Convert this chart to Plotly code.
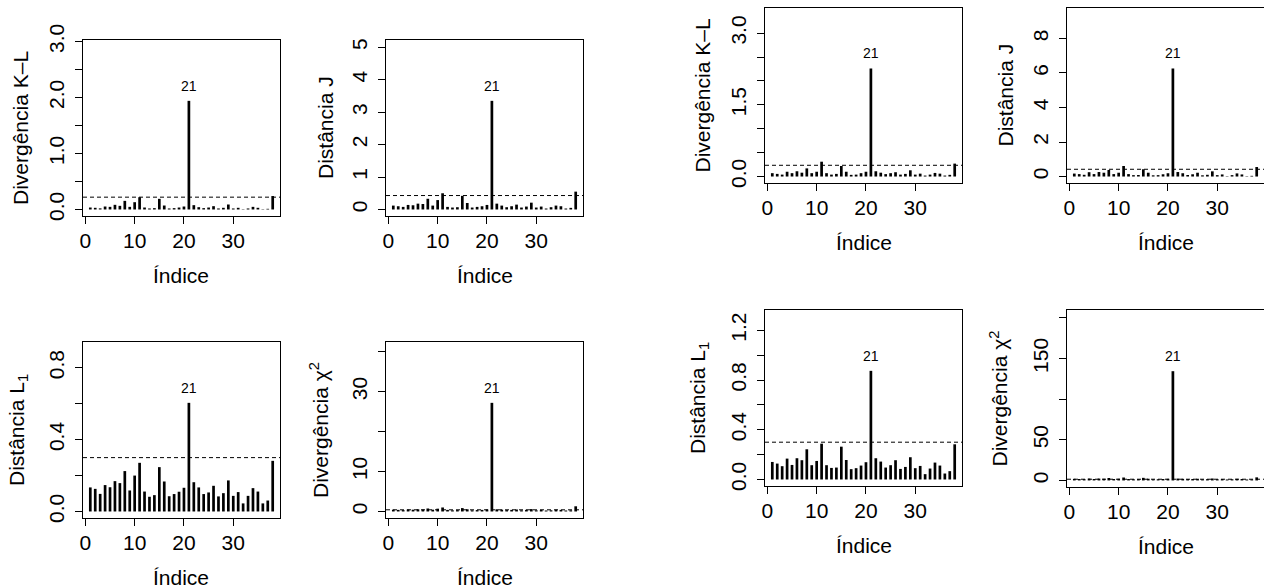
import plotly.graph_objects as go

# Observation index shared by every panel
indice = list(range(1, 39))

# First model: influence measures per observation
kl_a = [0.035, 0.030, 0.020, 0.053, 0.047, 0.083, 0.065, 0.154, 0.047, 0.130,
        0.219, 0.035, 0.018, 0.024, 0.190, 0.071, 0.018, 0.024, 0.035, 0.053,
        1.940, 0.077, 0.041, 0.024, 0.035, 0.059, 0.018, 0.030, 0.089, 0.018,
        0.030, 0.006, 0.018, 0.047, 0.030, 0.006, 0.012, 0.240]
j_a = [0.12, 0.10, 0.08, 0.14, 0.13, 0.18, 0.17, 0.33, 0.12, 0.29,
       0.50, 0.08, 0.06, 0.07, 0.42, 0.20, 0.06, 0.08, 0.10, 0.14,
       3.35, 0.18, 0.12, 0.07, 0.10, 0.15, 0.06, 0.09, 0.21, 0.06,
       0.09, 0.03, 0.07, 0.12, 0.10, 0.03, 0.05, 0.55]
l1_a = [0.134, 0.126, 0.098, 0.147, 0.135, 0.169, 0.158, 0.225, 0.117, 0.200,
        0.271, 0.111, 0.082, 0.091, 0.247, 0.167, 0.085, 0.097, 0.110, 0.132,
        0.605, 0.163, 0.134, 0.097, 0.106, 0.143, 0.084, 0.102, 0.173, 0.087,
        0.108, 0.045, 0.087, 0.130, 0.111, 0.045, 0.061, 0.282]
chi2_a = [0.45, 0.40, 0.35, 0.50, 0.45, 0.55, 0.50, 0.75, 0.45, 0.70,
          1.00, 0.40, 0.30, 0.35, 0.85, 0.55, 0.30, 0.35, 0.40, 0.50,
          27.2, 0.55, 0.45, 0.35, 0.40, 0.50, 0.30, 0.40, 0.60, 0.30,
          0.40, 0.25, 0.30, 0.45, 0.40, 0.25, 0.30, 1.30]

# Second model: influence measures per observation
kl_b = [0.070, 0.055, 0.040, 0.100, 0.070, 0.110, 0.080, 0.170, 0.070, 0.100,
        0.310, 0.070, 0.040, 0.055, 0.220, 0.100, 0.035, 0.040, 0.070, 0.100,
        2.260, 0.110, 0.080, 0.050, 0.070, 0.090, 0.040, 0.055, 0.130, 0.040,
        0.060, 0.020, 0.040, 0.075, 0.060, 0.020, 0.035, 0.270]
j_b = [0.17, 0.14, 0.10, 0.25, 0.14, 0.26, 0.22, 0.38, 0.14, 0.22,
       0.61, 0.14, 0.08, 0.09, 0.42, 0.22, 0.07, 0.08, 0.13, 0.19,
       6.26, 0.26, 0.19, 0.09, 0.13, 0.22, 0.07, 0.10, 0.30, 0.08,
       0.12, 0.02, 0.08, 0.18, 0.12, 0.02, 0.04, 0.55]
l1_b = [0.141, 0.128, 0.107, 0.168, 0.117, 0.171, 0.155, 0.243, 0.115, 0.149,
        0.288, 0.115, 0.093, 0.096, 0.264, 0.157, 0.083, 0.091, 0.112, 0.139,
        0.874, 0.171, 0.144, 0.096, 0.115, 0.155, 0.085, 0.101, 0.179, 0.091,
        0.109, 0.043, 0.088, 0.136, 0.112, 0.048, 0.067, 0.283]
chi2_b = [2.0, 1.8, 1.6, 2.3, 1.8, 2.3, 2.1, 3.0, 1.8, 2.1,
          3.6, 1.8, 1.5, 1.6, 3.2, 2.1, 1.4, 1.5, 1.8, 2.0,
          134.4, 2.3, 2.0, 1.6, 1.8, 2.1, 1.4, 1.6, 2.4, 1.5,
          1.7, 1.2, 1.5, 2.0, 1.8, 1.2, 1.3, 3.8]

# Cut-off levels (dashed reference lines)
cut_a = {"kl": 0.22, "j": 0.43, "l1": 0.30, "chi2": 0.42}
cut_b = {"kl": 0.235, "j": 0.42, "l1": 0.30, "chi2": 1.5}

x_ticks = [0, 10, 20, 30]

W, H = 1264, 588
FONT = "Liberation Sans, Arial, Helvetica, sans-serif"
BASE = 21


def tick_set(step, top, labelled, fmt):
    vals, texts = [], []
    k = 0
    while k * step <= top + 1e-9:
        v = round(k * step, 6)
        vals.append(v)
        texts.append(fmt.format(v) if any(abs(v - l) < 1e-9 for l in labelled) else "")
        k += 1
    return vals, texts


panels = [
    # values, cut, y title, tick step, top tick, labelled ticks, format, box (px), title x (px), right edge shown
    (kl_a, cut_a["kl"], "Divergência K–L", 0.5, 3.0, [0, 1, 2, 3], "{:.1f}", (83, 40, 280, 216), 20, True),
    (j_a, cut_a["j"], "Distância J", 1, 5, [0, 1, 2, 3, 4, 5], "{:.0f}", (386, 40, 583, 216), 325, True),
    (l1_a, cut_a["l1"], "Distância L<sub>1</sub>", 0.2, 0.8, [0, 0.4, 0.8], "{:.1f}", (83, 342, 280, 518), 18, True),
    (chi2_a, cut_a["chi2"], "Divergência χ<sup>2</sup>", 10, 40, [0, 10, 30], "{:.0f}", (386, 342, 583, 518), 319, True),
    (kl_b, cut_b["kl"], "Divergência K–L", 0.5, 3.0, [0, 1.5, 3.0], "{:.1f}", (765, 8, 962, 183), 702, True),
    (j_b, cut_b["j"], "Distância J", 2, 8, [0, 2, 4, 6, 8], "{:.0f}", (1067, 8, 1264, 183), 1005, False),
    (l1_b, cut_b["l1"], "Distância L<sub>1</sub>", 0.2, 1.2, [0, 0.4, 0.8, 1.2], "{:.1f}", (765, 310, 962, 486), 699, True),
    (chi2_b, cut_b["chi2"], "Divergência χ<sup>2</sup>", 50, 200, [0, 50, 150], "{:.0f}", (1067, 310, 1264, 487), 998, False),
]

fig = go.Figure()
annotations = []
shapes = []
layout_axes = {}

x_lo = 1 - 0.04 * (38 - 1)
x_hi = 38 + 0.04 * (38 - 1)

for n, (vals, cut, ytitle, step, top, labelled, fmt, box, tx, right_edge) in enumerate(panels, start=1):
    x0, y0, x1, y1 = box
    sfx = "" if n == 1 else str(n)
    xa, ya = f"x{sfx}", f"y{sfx}"
    peak = max(vals)
    ylim = 1.5 * peak
    y_lo, y_hi = -0.04 * ylim, 1.04 * ylim

    # vertical "h"-type bars drawn as line segments from zero
    xs, ys = [], []
    for i, v in zip(indice, vals):
        xs += [i, i, None]
        ys += [0, v, None]
    fig.add_trace(go.Scatter(x=xs, y=ys, mode="lines",
                             line=dict(color="black", width=2.7),
                             xaxis=xa, yaxis=ya, hoverinfo="skip", showlegend=False))

    tv, tt = tick_set(step, top, labelled, fmt)
    layout_axes[f"xaxis{sfx}"] = dict(
        domain=[x0 / W, min(x1 / W, 1.0)], range=[x_lo, x_hi], anchor=ya,
        tickvals=x_ticks, ticks="outside", ticklen=7, tickwidth=1, tickcolor="black",
        showline=True, linecolor="black", linewidth=1, mirror=True,
        showgrid=False, zeroline=False, automargin=False,
        tickfont=dict(family=FONT, size=BASE, color="black"), ticklabelstandoff=-1,
    )
    layout_axes[f"yaxis{sfx}"] = dict(
        domain=[1 - y1 / H, 1 - y0 / H], range=[y_lo, y_hi], anchor=xa,
        tickvals=tv, ticktext=tt, tickangle=-90, ticks="outside", ticklen=7,
        tickwidth=1, tickcolor="black",
        showline=True, linecolor="black", linewidth=1, mirror=right_edge,
        showgrid=False, zeroline=False, automargin=False,
        tickfont=dict(family=FONT, size=BASE, color="black"), ticklabelstandoff=3,
    )

    # dashed cut-off line across the panel
    shapes.append(dict(type="line", xref=f"{xa} domain", yref=ya, x0=0, x1=1, y0=cut, y1=cut,
                       line=dict(color="black", width=1, dash="4px,3px")))

    # label of the most influential observation
    k = vals.index(peak)
    annotations.append(dict(x=indice[k], y=peak, xref=xa, yref=ya, text=str(indice[k]),
                            showarrow=False, yanchor="bottom", yshift=5,
                            font=dict(family=FONT, size=14, color="black")))

    # axis titles
    annotations.append(dict(x=tx / W, y=1 - (y0 + y1) / 2 / H, xref="paper", yref="paper",
                            text=ytitle, textangle=-90, showarrow=False,
                            xanchor="center", yanchor="middle",
                            font=dict(family=FONT, size=BASE, color="black")))
    annotations.append(dict(x=(x0 + min(x1, W)) / 2 / W, y=1 - (y1 + 59) / H,
                            xref="paper", yref="paper", text="Índice", showarrow=False,
                            xanchor="center", yanchor="middle",
                            font=dict(family=FONT, size=BASE, color="black")))

fig.update_layout(
    width=W, height=H, autosize=False,
    margin=dict(l=0, r=0, t=0, b=0),
    paper_bgcolor="white", plot_bgcolor="white",
    annotations=annotations, shapes=shapes,
    font=dict(family=FONT, size=BASE, color="black"),
    **layout_axes,
)

fig.write_html("out.html")
